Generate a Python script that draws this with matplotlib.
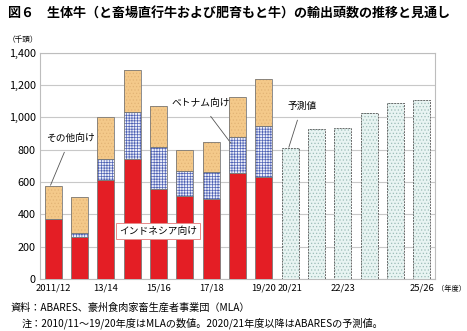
import matplotlib
matplotlib.use("Agg")
import matplotlib.pyplot as plt
import numpy as np

plt.rcParams['font.family'] = ['Noto Sans CJK JP', 'DejaVu Sans']
plt.rcParams['hatch.linewidth'] = 0.5

# 年度ラベル (15本)
years = ["2011/12", "12/13", "13/14", "14/15", "15/16", "16/17", "17/18", "18/19",
         "19/20", "20/21", "21/22", "22/23", "23/24", "24/25", "25/26"]
shown = ["2011/12", "13/14", "15/16", "17/18", "19/20", "20/21", "22/23", "25/26"]

# 実績 (千頭)
indonesia = [373, 262, 613, 740, 555, 514, 495, 654, 628]
vietnam = [0, 24, 131, 293, 264, 156, 167, 227, 318]
others = [205, 224, 261, 262, 252, 128, 184, 243, 291]
# 予測値 (千頭)
forecast = [808, 930, 936, 1025, 1091, 1108]

fig = plt.figure(figsize=(4.67, 3.31), dpi=100)
ax = fig.add_axes([40/467, 1-279/331, 395/467, (279-52.7)/331])

x_act = np.arange(len(indonesia))
x_fc = np.arange(len(indonesia), len(years))
w = 0.65
edge = '#7a7a7a'

ax.bar(x_act, indonesia, w, color='#e41e25', edgecolor=edge, linewidth=0.6, zorder=3)
ax.bar(x_act, vietnam, w, bottom=indonesia, color='#eef0fa', edgecolor='#4f62b5',
       hatch='++++++', linewidth=0, zorder=3)
bot2 = np.array(indonesia) + np.array(vietnam)
ax.bar(x_act, vietnam, w, bottom=indonesia, fill=False, edgecolor=edge, linewidth=0.6, zorder=4)
ax.bar(x_act, others, w, bottom=bot2, color='#f4c98a', edgecolor='#e3b476',
       hatch='.....', linewidth=0, zorder=3)
ax.bar(x_act, others, w, bottom=bot2, fill=False, edgecolor=edge, linewidth=0.6, zorder=4)

ax.bar(x_fc, forecast, w, color='#e8f4f2', edgecolor='#9dbdb8', hatch='.....',
       linewidth=0, zorder=3)
ax.bar(x_fc, forecast, w, fill=False, edgecolor='#6a6a6a', linewidth=0.7,
       linestyle=(0, (2, 1)), zorder=4)

ax.set_xlim(-0.5, len(years) - 0.5)
ax.set_ylim(0, 1400)
ax.set_yticks(range(0, 1401, 200))
ax.set_yticklabels([f"{v:,}" for v in range(0, 1401, 200)], fontsize=7.8)
ax.set_xticks([years.index(s) for s in shown])
ax.set_xticklabels(shown, fontsize=6.8)
ax.tick_params(length=0, pad=3)
ax.yaxis.grid(True, color='#c8c8c8', linewidth=0.8, zorder=0)
for s in ax.spines.values():
    s.set_color('#bdbdbd')
    s.set_linewidth(0.8)

line = dict(arrowstyle='-', color='#555555', lw=0.6)
ax.annotate("その他向け", xy=(-0.1, 580), xytext=(0.65, 872), fontsize=7,
            ha='center', va='center', arrowprops=dict(line, shrinkB=0, shrinkA=5))
ax.annotate("ベトナム向け", xy=(6.75, 840), xytext=(5.6, 1089), fontsize=7,
            ha='center', va='center', arrowprops=dict(line, shrinkB=0, shrinkA=5))
ax.annotate("予測値", xy=(8.95, 815), xytext=(9.45, 1072), fontsize=7,
            ha='center', va='center', arrowprops=dict(line, shrinkB=0, shrinkA=5))
ax.text(3.98, 297, "インドネシア向け", fontsize=7, ha='center', va='center', zorder=6,
        bbox=dict(boxstyle='square,pad=0.3', facecolor='white', edgecolor='#e88a8a', lw=0.7))

fig.text(8/467, 1-14/331, "図６　生体牛（と畜場直行牛および肥育もと牛）の輸出頭数の推移と見通し",
         fontsize=9.4, fontweight='bold', va='center', ha='left')
fig.text(8/467, 1-40/331, "（千頭）", fontsize=5.5, va='center', ha='left')
fig.text(437/467, 1-289/331, "（年度）", fontsize=5.2, va='center', ha='left')
fig.text(10/467, 1-308/331, "資料：ABARES、豪州食肉家畜生産者事業団（MLA）",
         fontsize=7.3, va='center', ha='left')
fig.text(22/467, 1-323/331, "注：2010/11～19/20年度はMLAの数値。2020/21年度以降はABARESの予測値。",
         fontsize=7.3, va='center', ha='left')

fig.savefig("out.png", dpi=100)
